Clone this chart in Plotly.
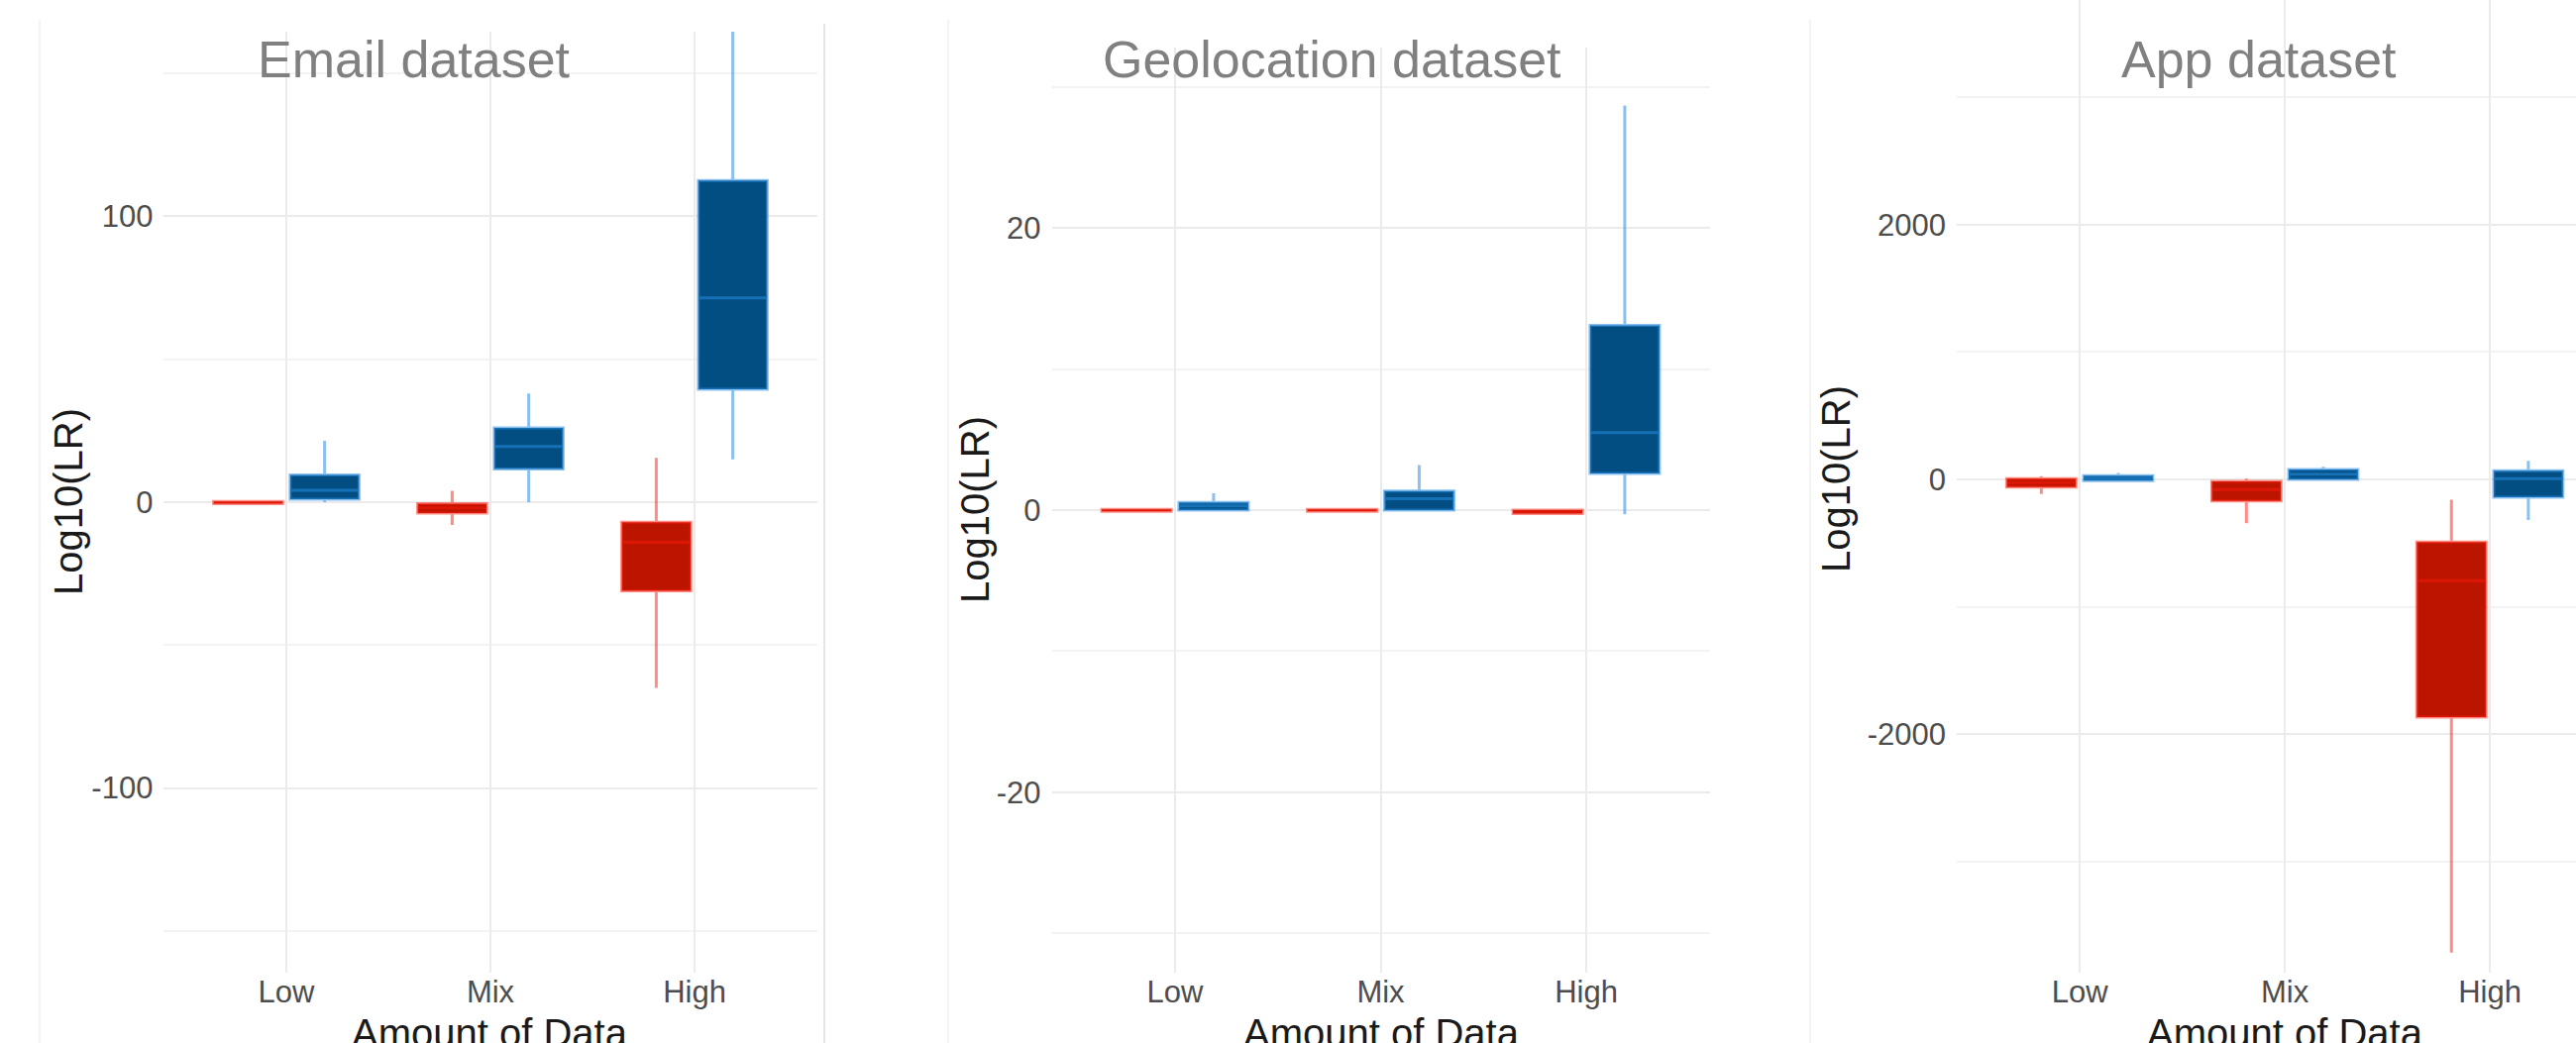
import plotly.graph_objects as go

W, H = 2600, 1053

categories = ["Low", "Mix", "High"]
x_title = "Amount of Data"
y_title = "Log10(LR)"
panel_titles = ["Email dataset", "Geolocation dataset", "App dataset"]

# y tick values / labels per panel
email_ticks = [-100, 0, 100]
email_ticklabels = ["-100", "0", "100"]
geo_ticks = [-20, 0, 20]
geo_ticklabels = ["-20", "0", "20"]
app_ticks = [-2000, 0, 2000]
app_ticklabels = ["-2000", "0", "2000"]

# ---- Email dataset (red = left box, blue = right box) ----
email_red_q1 = [-0.5, -3.8, -31.0]
email_red_med = [0.0, -2.0, -14.0]
email_red_q3 = [0.3, -0.5, -7.0]
email_red_lo = [-0.8, -8.0, -65.0]
email_red_hi = [0.5, 4.0, 15.5]

email_blue_q1 = [1.0, 11.6, 39.5]
email_blue_med = [4.2, 19.5, 71.5]
email_blue_q3 = [9.5, 26.0, 112.5]
email_blue_lo = [0.0, 0.0, 15.0]
email_blue_hi = [21.5, 38.0, 166.0]

# ---- Geolocation dataset ----
geo_red_q1 = [-0.08, -0.08, -0.25]
geo_red_med = [0.0, 0.0, -0.1]
geo_red_q3 = [0.05, 0.05, 0.0]
geo_red_lo = [-0.1, -0.1, -0.3]
geo_red_hi = [0.08, 0.08, 0.0]

geo_blue_q1 = [0.0, 0.0, 2.6]
geo_blue_med = [0.3, 0.8, 5.5]
geo_blue_q3 = [0.55, 1.35, 13.1]
geo_blue_lo = [-0.05, 0.0, -0.3]
geo_blue_hi = [1.2, 3.2, 28.7]

# ---- App dataset ----
app_red_q1 = [-60, -170, -1868]
app_red_med = [-25, -80, -796]
app_red_q3 = [5, -15, -493]
app_red_lo = [-115, -345, -3717]
app_red_hi = [25, 5, -160]

app_blue_q1 = [-10, 0, -140]
app_blue_med = [10, 40, 5]
app_blue_q3 = [30, 78, 68]
app_blue_lo = [-12, -10, -320]
app_blue_hi = [50, 100, 145]

RED_FILL = "#BB1500"
RED_LINE = "rgba(255,25,10,0.5)"
BLUE_FILL = "#024E82"
BLUE_LINE = "rgba(40,140,225,0.55)"

FONT = "Liberation Sans, Arial, sans-serif"

fig = go.Figure()

datasets = [
    ("email", "x", "y", (email_red_q1, email_red_med, email_red_q3, email_red_lo, email_red_hi),
     (email_blue_q1, email_blue_med, email_blue_q3, email_blue_lo, email_blue_hi)),
    ("geo", "x2", "y2", (geo_red_q1, geo_red_med, geo_red_q3, geo_red_lo, geo_red_hi),
     (geo_blue_q1, geo_blue_med, geo_blue_q3, geo_blue_lo, geo_blue_hi)),
    ("app", "x3", "y3", (app_red_q1, app_red_med, app_red_q3, app_red_lo, app_red_hi),
     (app_blue_q1, app_blue_med, app_blue_q3, app_blue_lo, app_blue_hi)),
]

for grp, xa, ya, red, blue in datasets:
    for name, og, stats, fill, line in (("Different source", "red", red, RED_FILL, RED_LINE),
                                        ("Same source", "blue", blue, BLUE_FILL, BLUE_LINE)):
        q1, med, q3, lo, hi = stats
        fig.add_trace(go.Box(
            x=categories, q1=q1, median=med, q3=q3, lowerfence=lo, upperfence=hi,
            name=name, fillcolor=fill, line=dict(color=line, width=3),
            whiskerwidth=0, boxpoints=False, showlegend=False,
            alignmentgroup=grp, offsetgroup=og,
            xaxis=xa, yaxis=ya,
        ))

def px_x(p):
    return p / W

def px_y(p):
    return 1 - p / H

GRID = "#EBEBEB"
MINOR = "#F3F3F3"
TICKFONT = dict(family=FONT, size=31, color="#4D4D4D")

def xaxis(domain, rng):
    return dict(domain=domain, type="category", categoryorder="array",
                categoryarray=categories, range=rng, showgrid=True,
                gridcolor=GRID, gridwidth=2, zeroline=False, showline=False,
                ticks="", tickfont=TICKFONT, ticklabelstandoff=-2, fixedrange=True)

def yaxis(domain, rng, tickvals, ticktext, anchor):
    step = tickvals[1] - tickvals[0]
    return dict(domain=domain, range=rng, tickmode="array", tickvals=tickvals,
                ticktext=ticktext, showgrid=True,
                gridcolor=GRID, gridwidth=2, zeroline=False, showline=False,
                ticks="", tickfont=TICKFONT, ticklabelstandoff=10, anchor=anchor,
                minor=dict(tickmode="linear", dtick=step / 2, tick0=0, showgrid=True,
                           gridcolor=MINOR, gridwidth=1.5),
                fixedrange=True)

ybottom = px_y(982)

fig.update_layout(
    width=W, height=H,
    margin=dict(l=0, r=0, t=0, b=0),
    paper_bgcolor="white", plot_bgcolor="white",
    boxmode="group", boxgap=0.25, boxgroupgap=0.1,
    font=dict(family=FONT),
    xaxis=xaxis([px_x(165.4), px_x(824.6)], [-0.6, 2.6]) | dict(anchor="y"),
    yaxis=yaxis([ybottom, px_y(32)], [-164.6, 164.6], email_ticks, email_ticklabels, "x"),
    xaxis2=xaxis([px_x(1061.5), px_x(1725.5)], [-0.6, 2.6]) | dict(anchor="y2"),
    yaxis2=yaxis([ybottom, px_y(48)], [-32.8, 32.8], geo_ticks, geo_ticklabels, "x2"),
    xaxis3=xaxis([px_x(1975), 1.0], [-0.6, 2.42]) | dict(anchor="y3"),
    yaxis3=yaxis([ybottom, 1.0], [-3875, 3766], app_ticks, app_ticklabels, "x3"),
)

annotations = []
# panel titles
for t, cx in zip(panel_titles, [418, 1344, 2280]):
    annotations.append(dict(text=t, x=px_x(cx), y=px_y(60), xref="paper", yref="paper",
                            xanchor="center", yanchor="middle", showarrow=False,
                            font=dict(family=FONT, size=52, color="#808080")))
# y titles
for cx, cy in zip([69, 984, 1853], [507, 515, 484]):
    annotations.append(dict(text=y_title, x=px_x(cx), y=px_y(cy), xref="paper", yref="paper",
                            xanchor="center", yanchor="middle", textangle=-90, showarrow=False,
                            font=dict(family=FONT, size=40, color="#1A1A1A")))
# x titles
for cx in [494, 1394, 2306]:
    annotations.append(dict(text=x_title, x=px_x(cx), y=px_y(1019), xref="paper", yref="paper",
                            xanchor="center", yanchor="top", showarrow=False,
                            font=dict(family=FONT, size=40, color="#1A1A1A")))
fig.update_layout(annotations=annotations)

# faint screenshot panel borders
shapes = []
for xpx, col, y0 in [(40, "#F3F3F3", 20), (832, "#E6E6E6", 24), (957, "#F3F3F3", 20), (1827, "#F3F3F3", 20)]:
    shapes.append(dict(type="line", xref="paper", yref="paper", x0=px_x(xpx), x1=px_x(xpx),
                       y0=0, y1=px_y(y0), line=dict(color=col, width=2)))
fig.update_layout(shapes=shapes)

fig.write_html("out.html", config={"displayModeBar": False},
               post_script="document.body.style.margin='0';document.body.style.overflow='hidden';")
